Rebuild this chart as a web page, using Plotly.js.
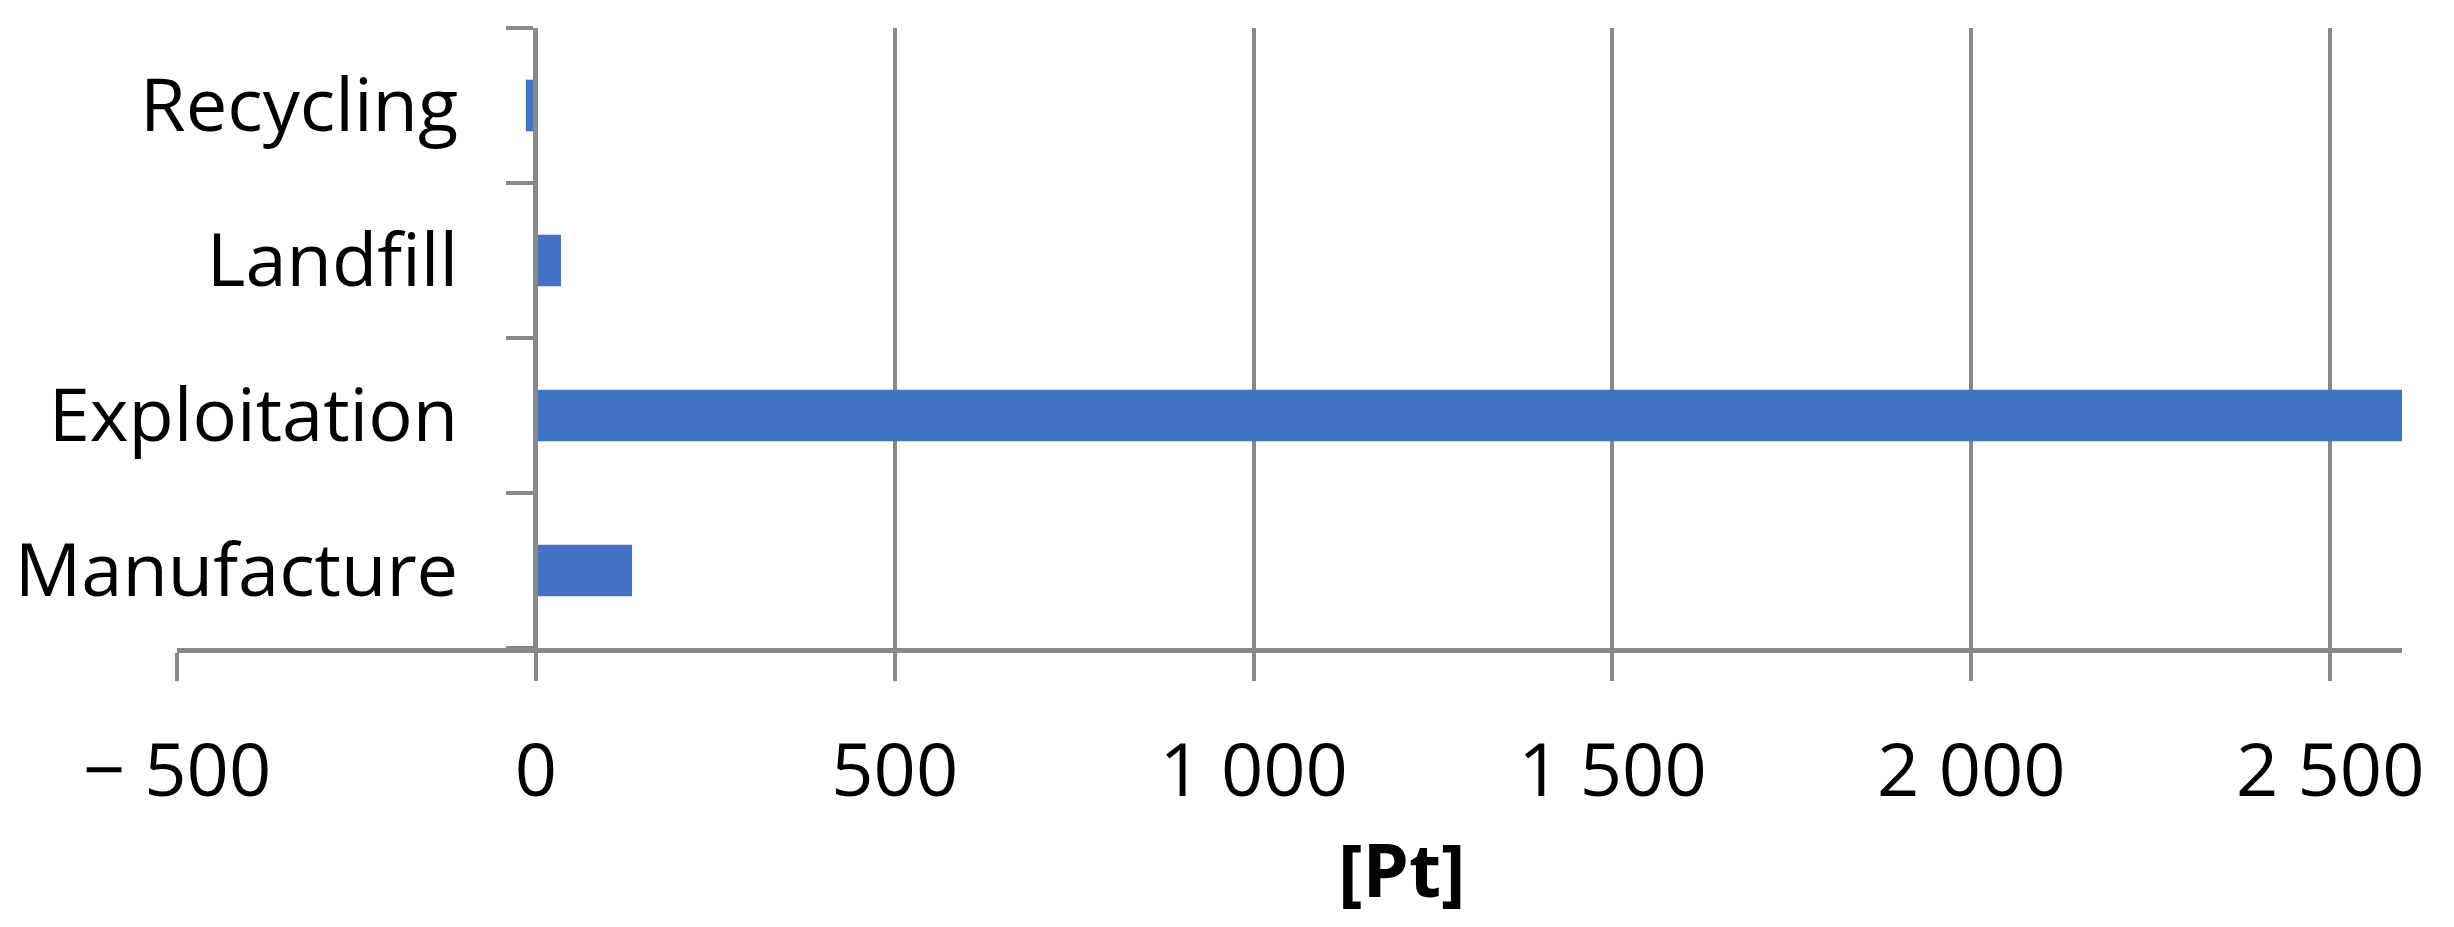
<!DOCTYPE html>
<html>
<head>
<meta charset="utf-8">
<script src="https://cdn.plot.ly/plotly-3.0.1.min.js"></script>
<style>html,body{margin:0;padding:0;background:#fff;}#chart{width:2454px;height:927px;}</style>
</head>
<body>
<div id="chart"></div>
<script>
const categories = ["Manufacture", "Exploitation", "Landfill", "Recycling"];
const values = [134, 2610, 35, -14];
const xTickVals = [-500, 0, 500, 1000, 1500, 2000, 2500];
const xTickText = ["\u2212 500", "0", "500", "1 000", "1 500", "2 000", "2 500"];
const xTitle = "[Pt]";

const gray = "#898989";
const fontFamily = "'Open Sans', 'Noto Sans', sans-serif";
const fs = 74;

const trace = {
  type: "bar",
  orientation: "h",
  y: categories,
  x: values,
  marker: {color: "#4472C4"},
  cliponaxis: false,
  hoverinfo: "x+y"
};

const layout = {
  width: 2454,
  height: 927,
  margin: {l: 177, r: 52, t: 28, b: 279},
  paper_bgcolor: "#ffffff",
  plot_bgcolor: "#ffffff",
  showlegend: false,
  bargap: 0.667,
  font: {family: fontFamily, size: fs, color: "#000000"},
  xaxis: {
    range: [-500, 2600],
    tickvals: xTickVals,
    ticktext: xTickText,
    showgrid: true,
    gridcolor: gray,
    gridwidth: 4,
    zeroline: false,
    showline: true,
    linecolor: gray,
    linewidth: 5,
    ticks: "outside",
    ticklen: 28,
    tickwidth: 4,
    tickcolor: gray,
    ticklabelstandoff: 26,
    tickfont: {family: fontFamily, size: fs, color: "#000000"},
    fixedrange: true
  },
  yaxis: {
    type: "category",
    categoryorder: "array",
    categoryarray: categories,
    range: [-0.5, 3.5],
    anchor: "free",
    position: 0.1609,
    showgrid: false,
    zeroline: false,
    showline: true,
    linecolor: gray,
    linewidth: 5,
    ticks: "outside",
    tickson: "boundaries",
    ticklen: 27,
    tickwidth: 4,
    tickcolor: gray,
    ticklabelstandoff: 60,
    tickfont: {family: fontFamily, size: fs, color: "#000000"},
    fixedrange: true
  },
  annotations: [{
    text: "<b>" + xTitle + "</b>",
    xref: "paper", yref: "paper",
    x: 0.5506, y: -0.356,
    xanchor: "center", yanchor: "middle",
    showarrow: false,
    font: {family: fontFamily, size: fs, color: "#000000"}
  }]
};

Plotly.newPlot("chart", [trace], layout, {displayModeBar: false, staticPlot: true});
</script>
</body>
</html>
